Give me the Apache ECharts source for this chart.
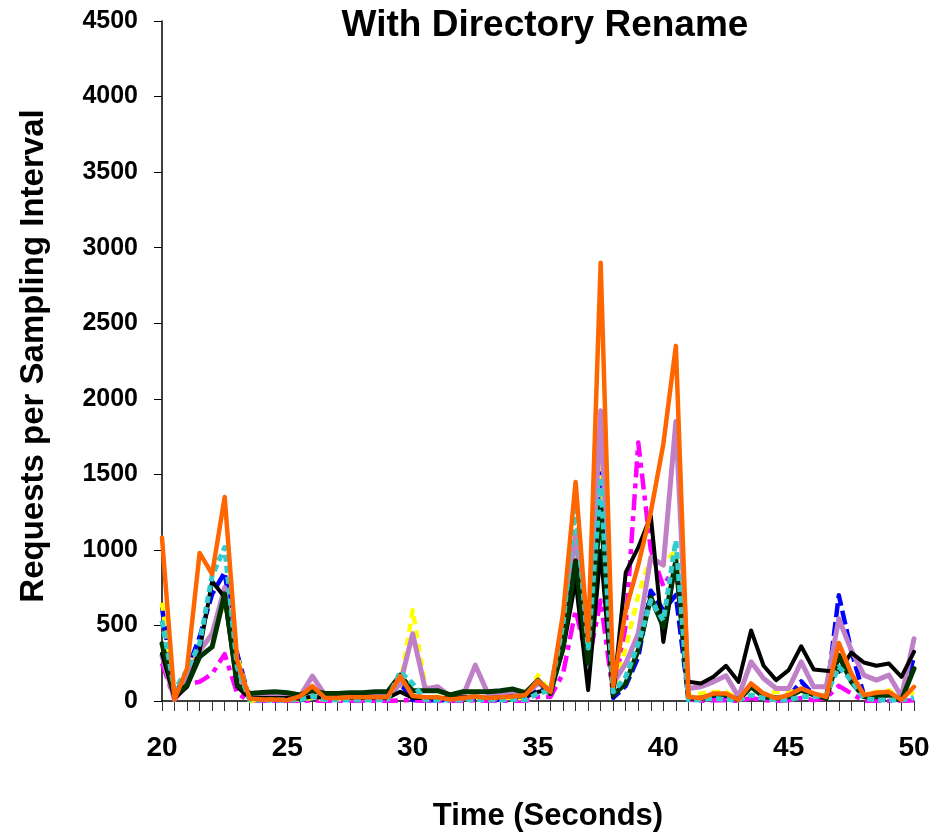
<!DOCTYPE html>
<html>
<head>
<meta charset="utf-8">
<script src="https://cdn.jsdelivr.net/npm/echarts@6/dist/echarts.min.js"></script>
<style>
html,body{margin:0;padding:0;background:#fff;}
#chart{width:942px;height:837px;}
</style>
</head>
<body>
<div id="chart"></div>
<script>
// Time categories (seconds)
var times = ['20','20.5','21','21.5','22','22.5','23','23.5','24','24.5','25','25.5','26','26.5','27','27.5','28','28.5','29','29.5','30','30.5','31','31.5','32','32.5','33','33.5','34','34.5','35','35.5','36','36.5','37','37.5','38','38.5','39','39.5','40','40.5','41','41.5','42','42.5','43','43.5','44','44.5','45','45.5','46','46.5','47','47.5','48','48.5','49','49.5','50'];

var blueSeries = [620,28,204,423,708,851,313,7,5,5,5,5,30,10,10,10,10,20,20,116,7,5,5,5,10,20,10,10,20,20,80,60,400,900,250,1560,20,100,290,730,600,700,20,10,30,30,10,110,40,20,30,130,40,20,700,330,40,20,20,10,290];
var magentaSeries = [250,10,110,127,180,310,50,0,0,0,0,0,5,0,0,0,0,0,0,5,5,0,0,0,0,5,0,0,0,0,28,28,182,600,250,665,40,500,1710,1000,760,900,10,0,5,5,0,20,5,0,5,20,5,20,100,50,0,0,0,0,5];
var yellowSeries = [650,10,200,330,450,650,300,0,10,10,20,10,20,10,10,20,20,20,30,100,600,100,20,20,20,20,20,20,20,20,170,60,450,1000,400,1600,60,350,700,950,900,1000,30,50,60,60,10,100,50,60,60,70,40,30,300,150,40,60,70,10,60];
var lilacSeries = [300,10,150,330,445,750,200,18,30,30,25,30,165,40,40,40,40,40,40,110,445,80,95,30,30,237,50,40,50,40,116,72,511,1100,335,1920,116,248,445,950,900,1850,83,94,127,167,28,259,149,83,83,259,94,94,544,336,171,138,171,28,412];
var blackSeries = [314,18,94,335,792,687,94,18,20,20,20,15,30,20,20,20,20,20,20,61,20,20,20,20,25,30,20,25,30,30,61,72,336,800,72,994,28,851,1016,1224,391,930,127,116,160,233,127,467,233,138,204,362,208,200,193,320,255,233,248,160,325];
var greenSeries = [380,40,105,292,358,709,105,50,57,61,55,40,68,50,50,55,55,61,61,171,68,68,68,40,61,61,61,68,79,55,138,50,358,928,250,1301,40,116,336,687,489,928,18,18,40,40,7,94,28,18,28,72,40,18,303,127,28,28,40,7,215];
var tealSeries = [533,72,204,380,829,1016,226,7,7,7,7,7,30,10,7,7,7,7,10,193,116,7,7,7,7,10,7,7,10,7,50,72,511,1301,350,1455,61,160,380,665,533,1060,7,7,18,10,5,40,18,7,7,28,28,40,226,138,18,7,7,7,22];
var orangeSeries = [1080,10,215,980,840,1350,270,15,10,10,5,30,99,20,20,25,25,25,25,165,33,25,25,10,20,30,20,25,30,40,135,60,580,1450,400,2900,100,600,900,1250,1700,2350,28,18,50,50,7,116,50,18,40,83,50,28,384,182,40,55,61,7,94];

var yTicks = {min: 0, max: 4500, step: 500};

var chart = echarts.init(document.getElementById('chart'), null, {renderer: 'canvas'});
var F = 'Arial, "Liberation Sans", Helvetica, sans-serif';

function mk(name, data, color, width, dash, z) {
  var solid = !dash || dash === 'solid';
  return {
    name: name, type: 'line', data: data, symbol: 'none', smooth: false,
    z: z, animation: false,
    lineStyle: {color: color, width: width, type: solid ? 'solid' : dash,
      cap: solid ? 'round' : 'butt', join: 'round'}
  };
}

chart.setOption({
  backgroundColor: '#ffffff',
  animation: false,
  title: {
    text: 'With Directory Rename', left: 540, top: 2, textAlign: 'center',
    textStyle: {fontFamily: F, fontWeight: 'bold', fontSize: 37, color: '#000'}
  },
  grid: {left: 162, right: 28, top: 21, bottom: 133, containLabel: false},
  xAxis: {
    type: 'category', data: times, boundaryGap: false,
    name: 'Time (Seconds)', nameLocation: 'middle', nameGap: 100,
    nameTextStyle: {fontFamily: F, fontWeight: 'bold', fontSize: 31, color: '#000', padding: [0, 0, 0, 20]},
    axisLine: {show: true, onZero: false, lineStyle: {color: '#000', width: 1.5}},
    axisTick: {show: true, interval: 0, inside: false, length: 10, lineStyle: {color: '#333', width: 1}},
    axisLabel: {interval: 9, margin: 33, fontFamily: F, fontWeight: 'bold', fontSize: 28, color: '#000'},
    splitLine: {show: false}
  },
  yAxis: {
    type: 'value', min: yTicks.min, max: yTicks.max, interval: yTicks.step,
    name: 'Requests per Sampling Interval', nameLocation: 'middle', nameGap: 112, nameRotate: 90,
    nameTextStyle: {fontFamily: F, fontWeight: 'bold', fontSize: 33, color: '#000', padding: [0, 0, 0, 10]},
    axisLine: {show: true, lineStyle: {color: '#000', width: 1.5}},
    axisTick: {show: true, inside: false, length: 8, lineStyle: {color: '#000', width: 1}},
    axisLabel: {margin: 24, fontFamily: F, fontWeight: 'bold', fontSize: 25, color: '#000',
      formatter: function (v) { return String(v); }},
    splitLine: {show: false}
  },
  series: [
    mk('Blue', blueSeries, '#0000FF', 4.5, [14, 5], 2),
    mk('Magenta', magentaSeries, '#FF00FF', 4.5, [16, 6, 5, 6], 3),
    mk('Yellow', yellowSeries, '#FFFF00', 4.5, [8, 6], 4),
    mk('Lilac', lilacSeries, '#C080C8', 5, 'solid', 5),
    mk('Black', blackSeries, '#000000', 4, 'solid', 6),
    mk('Green', greenSeries, '#003300', 5, 'solid', 7),
    mk('Teal', tealSeries, '#33CCCC', 5, [7, 4], 8),
    mk('Orange', orangeSeries, '#FF6600', 4.5, 'solid', 9)
  ]
});
</script>
</body>
</html>
